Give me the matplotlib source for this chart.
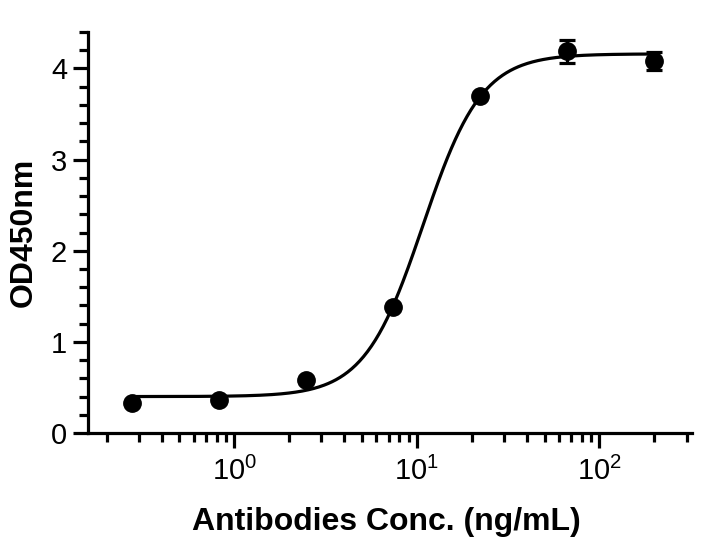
import numpy as np
import matplotlib
matplotlib.use("Agg")
import matplotlib.pyplot as plt
from matplotlib.ticker import LogLocator, MultipleLocator

plt.rcParams['font.family'] = ['Liberation Sans', 'DejaVu Sans']
plt.rcParams['mathtext.fontset'] = 'custom'
plt.rcParams['mathtext.rm'] = 'Liberation Sans'

# data (3-fold dilution from 200 ng/mL)
conc = [0.274, 0.823, 2.47, 7.41, 22.2, 66.7, 200]
od450 = [0.33, 0.36, 0.585, 1.38, 3.70, 4.19, 4.08]
od_sd = [0.0, 0.0, 0.0, 0.0, 0.0, 0.125, 0.10]

# 4PL fit parameters (estimated from the drawn curve)
bottom, top, ec50, hill = 0.40, 4.16, 10.8, 2.7

fig = plt.figure(figsize=(7.08, 5.5), dpi=100)
ax = fig.add_axes([0.1243, 0.2127, 0.8527, 0.7291])

xs = np.logspace(np.log10(conc[0]), np.log10(conc[-1]), 400)
fit = bottom + (top - bottom) / (1 + (ec50 / xs) ** hill)
ax.plot(xs, fit, color='black', lw=2.3, zorder=2)

ax.errorbar(conc, od450, yerr=od_sd, fmt='o', color='black', ms=12.5,
            elinewidth=2.3, capsize=5.5, capthick=2.3, zorder=3)

ax.set_xscale('log')
ax.set_xlim(0.158, 320)
ax.set_ylim(0, 4.4)
ax.xaxis.set_major_locator(LogLocator(base=10, numticks=10))
ax.xaxis.set_minor_locator(LogLocator(base=10, subs=np.arange(2, 10), numticks=20))
ax.yaxis.set_major_locator(MultipleLocator(1))
ax.yaxis.set_minor_locator(MultipleLocator(0.2))

for s in ['top', 'right']:
    ax.spines[s].set_visible(False)
for s in ['left', 'bottom']:
    ax.spines[s].set_linewidth(2.3)

ax.tick_params(which='major', length=11, width=2.3, labelsize=21, pad=4)
ax.tick_params(axis='x', which='major', pad=6)
ax.tick_params(which='minor', length=6.5, width=2.3)

ax.set_xlabel('Antibodies Conc. (ng/mL)', fontsize=23, fontweight='bold')
ax.set_ylabel('OD450nm', fontsize=23, fontweight='bold')
ax.xaxis.set_label_coords(0.495, -0.185)
ax.yaxis.set_label_coords(-0.082, 0.5)

fig.savefig('out.png', dpi=100)
